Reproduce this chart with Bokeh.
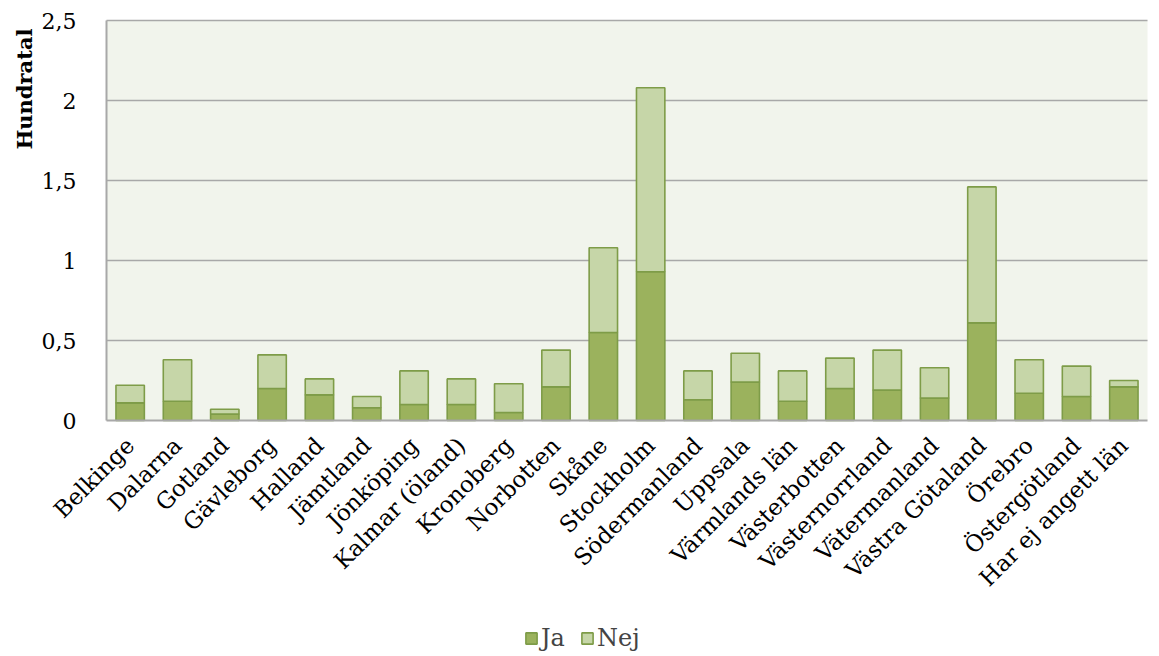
from bokeh.plotting import figure
from bokeh.models import (Range1d, Legend, LegendItem, Label, BoxAnnotation,
                          CustomJSTickFormatter, FixedTicker)
from bokeh.embed import file_html
from bokeh.resources import INLINE
from math import pi

# Counts per county (hundreds), split by answer
counties = ["Belkinge", "Dalarna", "Gotland", "Gävleborg", "Halland", "Jämtland",
            "Jönköping", "Kalmar (öland)", "Kronoberg", "Norbotten", "Skåne",
            "Stockholm", "Södermanland", "Uppsala", "Värmlands län", "Västerbotten",
            "Västernorrland", "Vätermanland", "Västra Götaland", "Örebro",
            "Östergötland", "Har ej angett län"]
ja = [0.11, 0.12, 0.04, 0.20, 0.16, 0.08, 0.10, 0.10, 0.05, 0.21, 0.55,
      0.93, 0.13, 0.24, 0.12, 0.20, 0.19, 0.14, 0.61, 0.17, 0.15, 0.21]
nej = [0.11, 0.26, 0.03, 0.21, 0.10, 0.07, 0.21, 0.16, 0.18, 0.23, 0.53,
       1.15, 0.18, 0.18, 0.19, 0.19, 0.25, 0.19, 0.85, 0.21, 0.19, 0.04]
series = ["Ja", "Nej"]
y_ticks = [0, 0.5, 1, 1.5, 2, 2.5]
y_title = "Hundratal"

FONT = "DejaVu Serif"
JA_FILL = "#9BB25D"
NEJ_FILL = "#C6D6A8"
EDGE = "#7E9C48"
GRID = "#A8A8A8"
PLOT_BG = "#F1F4EC"

W, H = 1159, 656
# plot area inside the canvas (pixels): left, right, top, zero line
AREA_L, AREA_R, AREA_T, AREA_B = 106, 1147, 20, 420

n = len(counties)
xs = list(range(n))
x_lo, x_hi = -0.5, n - 0.5
y_top = y_ticks[-1]
px_x = (AREA_R - AREA_L) / n
px_y = (AREA_B - AREA_T) / y_top

# The frame covers the whole canvas so that the rotated category labels,
# the value labels and the legend all sit in it around the plot area.
p = figure(x_range=Range1d(x_lo - AREA_L / px_x, x_hi + (W - AREA_R) / px_x),
           y_range=Range1d(-(H - AREA_B) / px_y, y_top + AREA_T / px_y),
           frame_width=W, frame_height=H,
           min_border=0, output_backend="svg", toolbar_location=None,
           background_fill_color="white", border_fill_color="white")
p.outline_line_color = None

# tinted plot area
p.add_layout(BoxAnnotation(left=x_lo, right=x_hi, bottom=0, top=y_top,
                           fill_color=PLOT_BG, fill_alpha=1, line_color=None,
                           level="underlay"))

# horizontal gridlines across the plot area
p.xgrid.visible = False
p.ygrid.visible = False
grid_y = y_ticks[1:]
p.segment(x0=[x_lo] * len(grid_y), x1=[x_hi] * len(grid_y), y0=grid_y, y1=grid_y,
          line_color=GRID, line_width=1.6)

src = {"x": xs, "Ja": ja, "Nej": nej}
rs = p.vbar_stack(series, x="x", width=0.6, source=src,
                  fill_color=[JA_FILL, NEJ_FILL], line_color=EDGE, line_width=1.6)

# value axis with decimal commas
p.yaxis.fixed_location = x_lo
p.yaxis.bounds = (0, y_top)
p.yaxis.ticker = FixedTicker(ticks=y_ticks)
p.yaxis.formatter = CustomJSTickFormatter(code="return tick.toString().replace('.', ',');")
p.yaxis.major_label_text_font = FONT
p.yaxis.major_label_text_font_size = "22px"
p.yaxis.major_label_text_color = "black"
p.yaxis.major_label_standoff = 24
p.yaxis.major_tick_line_color = None
p.yaxis.minor_tick_line_color = None
p.yaxis.axis_line_color = GRID
p.yaxis.axis_line_width = 2

# value axis title at the top end of the axis
p.add_layout(Label(x=24, y=H - 28, x_units="screen", y_units="screen",
                   text=y_title, angle=pi / 2, text_align="right",
                   text_baseline="middle", text_font=FONT,
                   text_font_style="bold", text_font_size="21px",
                   text_color="black"))

# county axis on the zero line
p.xaxis.fixed_location = 0
p.xaxis.bounds = (x_lo, x_hi)
p.xaxis.ticker = FixedTicker(ticks=xs)
p.xaxis.major_label_overrides = {i: c for i, c in zip(xs, counties)}
p.xaxis.major_label_orientation = pi / 4
p.xaxis.major_label_text_font = FONT
p.xaxis.major_label_text_font_size = "23px"
p.xaxis.major_label_text_color = "black"
p.xaxis.major_label_standoff = 15
p.xaxis.major_tick_line_color = None
p.xaxis.minor_tick_line_color = None
p.xaxis.axis_line_color = GRID
p.xaxis.axis_line_width = 2

legend = Legend(items=[LegendItem(label=s, renderers=[r]) for s, r in zip(series, rs)],
                orientation="horizontal", location=(524, 4),
                label_text_font=FONT, label_text_font_size="24px",
                label_height=18, glyph_width=14, glyph_height=14,
                spacing=15, label_standoff=3,
                border_line_color=None, background_fill_alpha=0, margin=0,
                padding=2)
p.add_layout(legend, "center")

open("out.html", "w").write(file_html(p, INLINE))
